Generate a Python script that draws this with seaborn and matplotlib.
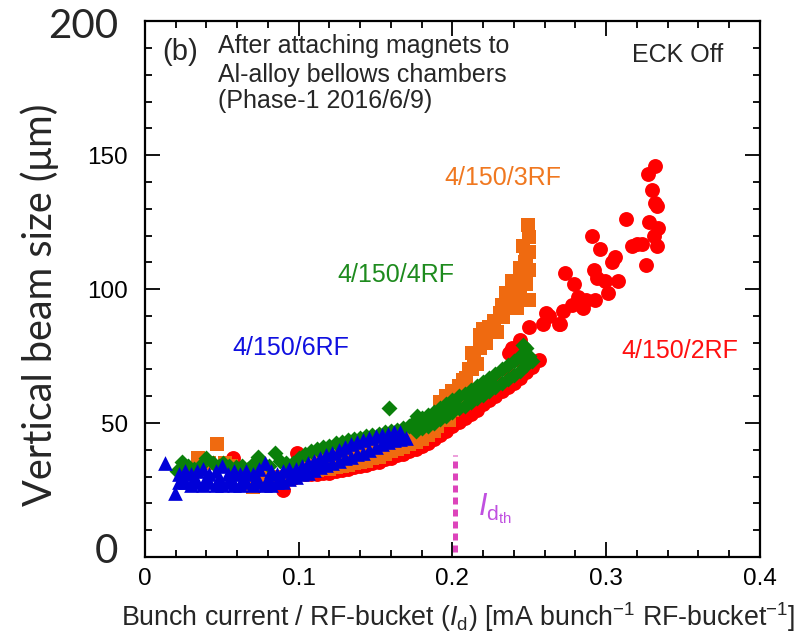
import numpy as np
import seaborn as sns
from matplotlib import pyplot as plt
from matplotlib import transforms
from matplotlib.ticker import MultipleLocator

# 4/150/2RF (red circles)
rf2_x = [0.057, 0.062, 0.070, 0.078, 0.085, 0.090, 0.096, 0.099, 0.100,
         # lower edge of the band
         0.104, 0.108, 0.112, 0.116, 0.120, 0.124, 0.128, 0.132, 0.136, 0.140,
         0.144, 0.148, 0.152, 0.156, 0.160, 0.164, 0.168, 0.172, 0.176, 0.180,
         0.184, 0.188, 0.192, 0.196, 0.200, 0.204, 0.208, 0.212, 0.216, 0.220,
         0.224, 0.228, 0.232, 0.236, 0.240, 0.244, 0.248, 0.252, 0.256,
         # upper part of the band
         0.102, 0.110, 0.118, 0.126, 0.134, 0.142, 0.150, 0.158, 0.166, 0.174,
         0.182, 0.190, 0.198, 0.206, 0.214, 0.222, 0.230, 0.238, 0.246,
         # scattered high-current points
         0.237, 0.239, 0.244, 0.250, 0.261, 0.263, 0.259, 0.269, 0.270, 0.272,
         0.273, 0.278, 0.279, 0.282, 0.285, 0.287, 0.291, 0.292, 0.293, 0.294,
         0.296, 0.299, 0.301, 0.304, 0.306, 0.308, 0.313, 0.317, 0.320, 0.323,
         0.326, 0.327, 0.328, 0.330, 0.331, 0.332, 0.332, 0.333, 0.333, 0.334]
rf2_y = [37, 33, 31, 30, 29, 25, 29.5, 39, 33,
         31, 31, 31, 31.5, 31.5, 32, 32.5, 33, 33.5, 34,
         34.5, 35, 35.5, 36.5, 37, 38, 38.5, 39.5, 40.5, 41.5,
         42.5, 44, 45.5, 47, 49, 50.5, 52, 53.5, 55, 57,
         58.5, 60, 62, 63.5, 65, 67, 69, 71, 73.5,
         34, 34.5, 35, 36, 37, 38, 39, 40.5, 42, 43.5,
         46, 49, 52, 55.5, 58.5, 62, 65, 68, 72,
         76, 78, 81, 86, 91, 90, 87, 87, 87, 92,
         106, 94, 102, 97, 93, 96, 120, 107, 96, 104,
         115, 103, 98.5, 110, 112, 103, 126, 116, 117, 117,
         109, 143, 125, 137, 120, 146, 132, 131, 116, 123]

# 4/150/3RF (orange squares)
rf3_x = [0.0345, 0.042, 0.047, 0.052, 0.056, 0.060, 0.065, 0.070, 0.075, 0.078,
         0.082, 0.0865, 0.091, 0.095,
         0.100, 0.104, 0.108, 0.112, 0.116, 0.120, 0.124, 0.128, 0.132, 0.136,
         0.140, 0.144, 0.148, 0.152, 0.156, 0.160, 0.164, 0.168, 0.172, 0.176,
         0.180, 0.184, 0.188,
         0.100, 0.104, 0.108, 0.112, 0.116, 0.120, 0.124, 0.128, 0.132, 0.136,
         0.140, 0.144, 0.148, 0.152, 0.156, 0.160, 0.164, 0.168, 0.172, 0.176,
         0.180, 0.184, 0.188,
         0.190, 0.192, 0.193, 0.195, 0.196, 0.198, 0.200, 0.200, 0.203, 0.204,
         0.205, 0.207, 0.209, 0.211, 0.213, 0.214, 0.216, 0.213, 0.218, 0.222,
         0.218, 0.220, 0.229, 0.224, 0.227, 0.233, 0.231, 0.235, 0.242, 0.232,
         0.238, 0.250, 0.244, 0.235, 0.241, 0.248, 0.239, 0.245, 0.250, 0.244,
         0.247, 0.248, 0.250, 0.246, 0.250, 0.249]
rf3_y = [37, 35, 42, 35, 34, 33, 31, 26, 29, 30,
         30, 28, 30, 31,
         34.5, 35, 35.5, 36, 36.5, 37, 37.5, 38, 38.5, 39.5,
         40, 41, 41.5, 42.5, 43.5, 44, 45, 46, 47, 48,
         49.5, 51, 52.5,
         32, 32, 32.5, 32.5, 33, 33, 33.5, 34, 34.5, 35,
         35.5, 36, 37, 37.5, 38.5, 39.5, 40.5, 41, 42, 43,
         44, 45.5, 47,
         49, 58, 53, 55, 60, 51, 55, 62, 60, 64,
         63, 66, 67, 70, 70, 74, 72, 76, 78, 80,
         83, 85, 84, 86, 88, 89.5, 91, 93, 93, 94,
         95, 96, 97, 98.5, 100, 102, 103, 105, 107, 108,
         110, 112, 114, 116, 119.5, 124]

# 4/150/4RF (green diamonds)
rf4_x = [0.021, 0.024, 0.028, 0.032, 0.036, 0.040, 0.044, 0.048, 0.051, 0.055,
         0.059, 0.063, 0.067, 0.071, 0.0735, 0.077, 0.081, 0.0845, 0.088, 0.092,
         0.096, 0.100,
         0.104, 0.108, 0.112, 0.116, 0.120, 0.124, 0.128, 0.132, 0.136, 0.140,
         0.144, 0.148, 0.152, 0.156, 0.160, 0.164, 0.168, 0.172,
         0.159, 0.177,
         0.176, 0.180, 0.184, 0.188, 0.192, 0.196, 0.200, 0.204, 0.208, 0.212,
         0.216, 0.220, 0.224, 0.228, 0.232, 0.236, 0.240, 0.244, 0.248,
         0.176, 0.180, 0.184, 0.188, 0.192, 0.196, 0.200, 0.204, 0.208, 0.212,
         0.216, 0.220, 0.224, 0.228, 0.232, 0.236, 0.240, 0.244, 0.248,
         0.250, 0.252, 0.246]
rf4_y = [32, 35.5, 34, 33, 34, 37, 35, 34, 35, 34,
         33.5, 34, 33, 35, 37.5, 35, 34, 39, 36, 35,
         35, 37,
         38.5, 39.5, 40.5, 41, 41.5, 42.5, 43, 43.5, 44, 44.5,
         45, 45.5, 46, 46.5, 47, 47.5, 48, 49,
         55.5, 52.5,
         51, 52, 53, 54, 55.5, 57, 58.5, 60, 61, 62.5,
         64, 65.5, 67, 68.5, 70, 71.5, 73, 75, 78,
         47, 48, 49, 50, 51.5, 52.5, 54, 55.5, 56.5, 58,
         59.5, 60.5, 62, 63.5, 65, 66.5, 68, 69.5, 71.5,
         75, 73, 79]

# 4/150/6RF (blue triangles)
rf6_x = [0.013, 0.0195,
         0.022, 0.026, 0.030, 0.034, 0.038, 0.042, 0.046, 0.050, 0.054, 0.058,
         0.062, 0.066, 0.070, 0.074, 0.078, 0.082, 0.086, 0.090, 0.094, 0.098,
         0.024, 0.032, 0.040, 0.048, 0.056, 0.064, 0.072, 0.080, 0.088, 0.096,
         0.022, 0.026, 0.030, 0.034, 0.038, 0.042, 0.046, 0.050, 0.054, 0.058,
         0.062, 0.066, 0.070, 0.074, 0.078, 0.082, 0.086, 0.090, 0.094, 0.098,
         0.102, 0.106, 0.110, 0.114, 0.118, 0.122, 0.126, 0.130, 0.134, 0.138,
         0.142, 0.146, 0.150, 0.154, 0.158, 0.162, 0.166,
         0.102, 0.106, 0.110, 0.114, 0.118, 0.122, 0.126, 0.130, 0.134, 0.138,
         0.142, 0.146, 0.150, 0.154, 0.158, 0.162, 0.166, 0.170]
rf6_y = [35, 24,
         31, 32, 31, 32, 33, 31, 32, 34, 31, 32,
         31, 32, 31, 33, 35, 32, 31, 32, 33, 33,
         29.5, 29.5, 29.5, 29.5, 29.5, 29.5, 29.5, 29.5, 29.5, 30.5,
         28, 28, 27, 28, 27, 28, 27, 27, 28, 27,
         27, 28, 27, 28, 27, 27, 28, 28, 29, 30,
         34, 35, 36, 37, 38, 39, 40, 41, 42, 43,
         43.5, 44.5, 45, 45.5, 46, 46.5, 46.5,
         31, 31.5, 32.5, 33.5, 34.5, 35, 36, 37, 37.5, 38.5,
         39, 40, 41, 42, 43, 43.5, 44, 44.5]

x_ticks = [0, 0.1, 0.2, 0.3, 0.4]
x_ticklabels = ["0", "0.1", "0.2", "0.3", "0.4"]
y_ticks = [0, 50, 100, 150, 200]
y_ticklabels = ["", "50", "100", "150", ""]

sns.set_style("ticks")
plt.rcParams['font.family'] = ['Liberation Sans', 'DejaVu Sans']
plt.rcParams['mathtext.fontset'] = 'custom'
plt.rcParams['mathtext.rm'] = 'Liberation Sans'
plt.rcParams['mathtext.it'] = 'Liberation Sans:italic'

fig = plt.figure(figsize=(8.05, 6.37), dpi=100)
ax = fig.add_axes([0.180, 0.1256, 0.764, 0.841])

red = "#ff0000"
orange = "#ef6a10"
green = "#0a800a"
blue = "#0000d8"

sns.scatterplot(x=rf2_x, y=rf2_y, marker='o', color=red, s=115, linewidth=0, ax=ax)
sns.scatterplot(x=rf3_x, y=rf3_y, marker='s', color=orange, s=95, linewidth=0, ax=ax)
sns.scatterplot(x=rf4_x, y=rf4_y, marker='D', color=green, s=66, linewidth=0, ax=ax)
sns.scatterplot(x=rf6_x, y=rf6_y, marker='^', color=blue, s=112, linewidth=0, ax=ax)

# threshold line
ax.plot([0.2016, 0.2016], [2, 38], color="#dd44bb", lw=3.6,
        linestyle=(0, (1.4, 1.0)), solid_capstyle='butt')
ax.text(0.2166, 15.7, r"$\mathit{I}_{\mathrm{d}_{\mathrm{th}}}$", color="#c050e0",
        fontsize=22, ha='left', va='baseline')

ax.set_xlim(0, 0.4)
ax.set_ylim(0, 200)
ax.set_xticks(x_ticks)
ax.set_xticklabels(x_ticklabels)
ax.set_yticks(y_ticks)
ax.set_yticklabels(y_ticklabels)
ax.xaxis.set_minor_locator(MultipleLocator(0.02))
ax.yaxis.set_minor_locator(MultipleLocator(10))
ax.tick_params(which='both', direction='in', top=True, right=True, width=1.3, color='black')
ax.tick_params(which='major', length=11)
ax.tick_params(which='minor', length=5)
ax.tick_params(axis='x', labelsize=17.5, pad=8, labelcolor='black')
ax.tick_params(axis='y', labelsize=17.5, pad=12, labelcolor='black')
for sp in ax.spines.values():
    sp.set_linewidth(1.6)
    sp.set_color('black')

# big 0 / 200 labels
trans = transforms.blended_transform_factory(ax.transAxes, ax.transData)
ax.text(-0.044, 2, "0", transform=trans, ha='right', va='center', fontsize=29, family='Lato')
ax.text(-0.044, 198, "200", transform=trans, ha='right', va='center', fontsize=29, family='Lato')

ax.set_ylabel("Vertical beam size (μm)", fontsize=28.5, family='Lato')
ax.yaxis.set_label_coords(-0.139, 0.47)
ax.set_xlabel(r"Bunch current / RF-bucket ($\mathit{I}_\mathrm{d}$) [mA bunch$^{-1}$ RF-bucket$^{-1}$]",
              fontsize=19.3)
ax.xaxis.set_label_coords(0.51, -0.08)

fs = 18
ax.text(0.011, 188.4, "(b)", fontsize=21, ha='left', va='center')
ax.text(0.0475, 188, "After attaching magnets to", fontsize=fs, ha='left', va='baseline')
ax.text(0.0475, 177.2, "Al-alloy bellows chambers", fontsize=fs, ha='left', va='baseline')
ax.text(0.0475, 167.5, "(Phase-1 2016/6/9)", fontsize=fs, ha='left', va='baseline')
ax.text(0.3167, 184.7, "ECK Off", fontsize=fs, ha='left', va='baseline')

ax.text(0.195, 138.8, "4/150/3RF", color="#f07820", fontsize=fs, ha='left', va='baseline')
ax.text(0.1249, 102.6, "4/150/4RF", color="#1e8b1e", fontsize=fs, ha='left', va='baseline')
ax.text(0.0572, 75.4, "4/150/6RF", color="#1010e0", fontsize=fs, ha='left', va='baseline')
ax.text(0.310, 74.3, "4/150/2RF", color="#ff1010", fontsize=fs, ha='left', va='baseline')

fig.savefig("out.png", dpi=100)
